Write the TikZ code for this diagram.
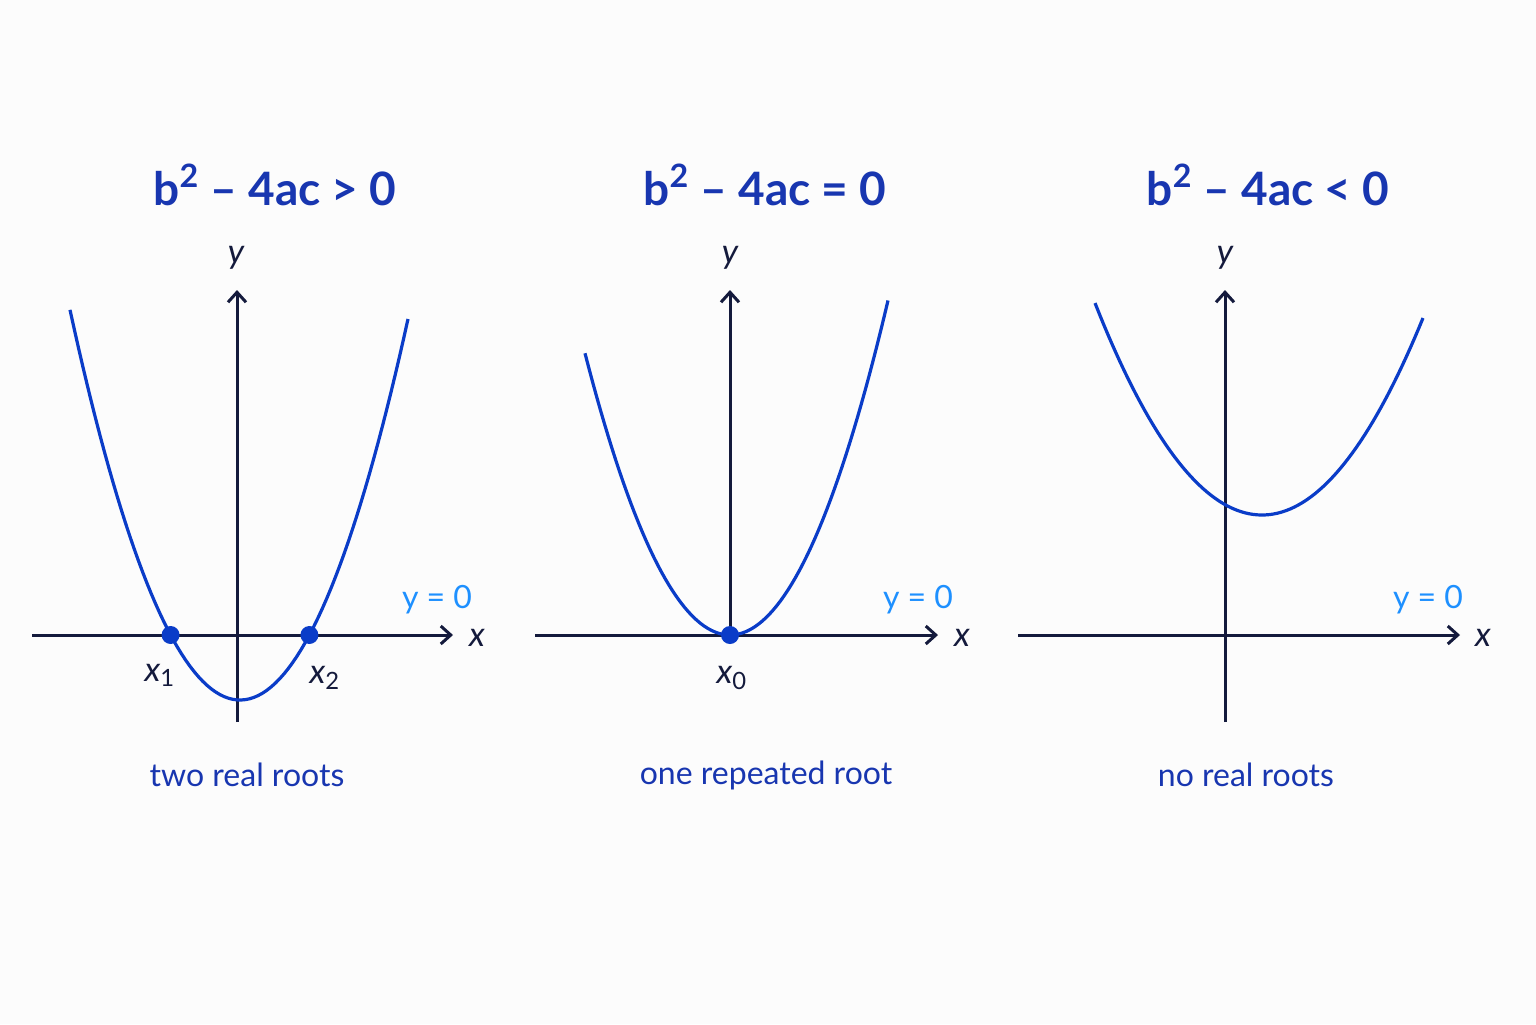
\documentclass[tikz,border=0pt]{standalone}
\usepackage{fontspec}
\setmainfont{Lato}
\usetikzlibrary{arrows.meta}
\definecolor{tblue}{HTML}{1836B0}
\definecolor{cblue}{HTML}{0A3CC8}
\definecolor{lblue}{HTML}{1E90FF}
\definecolor{axis}{HTML}{141A3C}
\begin{document}
\begin{tikzpicture}[x=0.5pt,y=-0.5pt,
  ax/.style={axis,line width=1.5pt,-{Straight Barb[length=5pt,width=9pt]}},
  curve/.style={cblue,line width=1.6pt},
  title/.style={font=\fontsize{23}{27}\selectfont\bfseries,text=tblue},
  captxt/.style={font=\fontsize{16}{19}\selectfont,text=tblue},
  yz/.style={font=\fontsize{16}{19}\selectfont,text=lblue},
  lab/.style={font=\fontsize{17}{20}\selectfont\itshape,text=axis},
  dot/.style={circle,fill=cblue,inner sep=0pt,minimum size=9pt}]
\fill[white!98!gray] (0,0) rectangle (1536,1024);
% panel 1
\draw[ax] (32,635) -- (453,635);
\draw[ax] (237,722) -- (237,290);
\draw[curve] plot[domain=-170:168,samples=80] ({\x+240},{700-1.35*(\x/10)^2});
\node[dot] (r1) at (170.6,635) {};
\node[dot] (r2) at (309.4,635) {};
\node[title] (t1) at (275,185) {b\textsuperscript{2} – 4ac > 0};
\node[lab] (x1) at (477,638) {x};
\node[lab] (y1) at (236,258) {y};
\node[yz] (e1) at (437,600) {y = 0};
\node[lab] (s1) at (160,675) {x\textsubscript{\upshape 1}};
\node[lab] (s2) at (325,678) {x\textsubscript{\upshape 2}};
\node[captxt] (c1) at (247,775) {two real roots};
% panel 2
\draw[ax] (535,635) -- (938,635);
\draw[ax] (730,635) -- (730,290);
\draw[curve] plot[domain=-145:158,samples=80] ({\x+730},{635-1.34*(\x/10)^2});
\node[dot] (r0) at (730,635) {};
\node[title] (t2) at (765,185) {b\textsuperscript{2} – 4ac = 0};
\node[lab] (x2) at (962,638) {x};
\node[lab] (y2) at (730,258) {y};
\node[yz] (e2) at (918,600) {y = 0};
\node[lab] (s0) at (732,678) {x\textsubscript{\upshape 0}};
\node[captxt] (c2) at (766,775) {one repeated root};
% panel 3
\draw[ax] (1018,635) -- (1460,635);
\draw[ax] (1225,722) -- (1225,290);
\draw[curve] plot[domain=-167:161,samples=80] ({\x+1262},{515-0.76*(\x/10)^2});
\node[title] (t3) at (1268,185) {b\textsuperscript{2} – 4ac < 0};
\node[lab] (x3) at (1483,638) {x};
\node[lab] (y3) at (1225,258) {y};
\node[yz] (e3) at (1428,600) {y = 0};
\node[captxt] (c3) at (1246,775) {no real roots};
\end{tikzpicture}
\end{document}
